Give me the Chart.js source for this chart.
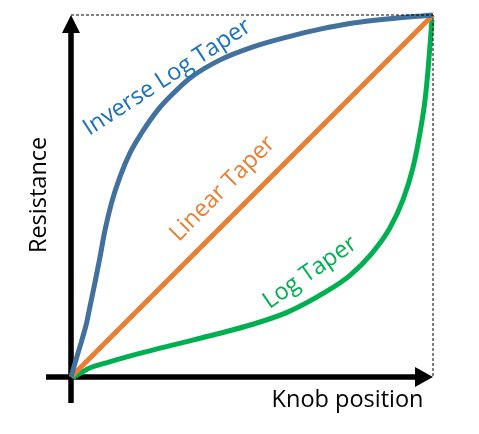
<!DOCTYPE html>
<html>
<head>
<meta charset="utf-8">
<script src="https://cdn.jsdelivr.net/npm/chart.js@4.4.1/dist/chart.umd.min.js"></script>
<style>
  html, body { margin: 0; padding: 0; background: #fff; }
  #wrap { width: 479px; height: 434px; }
</style>
</head>
<body>
<div id="wrap"><canvas id="grafico"></canvas></div>
<script>
// curve samples (knob position 0..100, resistance 0..100)
const invX = [0, 1.6, 3.0, 4.3, 5.2, 6.6, 8.0, 9.4, 11.2, 13.5, 16.3, 19.5, 24.0, 28.5, 32.9, 41.2, 50.3, 59.7, 68.8, 77.9, 87.3, 100];
const invY = [0, 5.5, 10.2, 14.9, 19.3, 26.0, 33.1, 40.6, 48.1, 55.2, 61.9, 67.4, 73.8, 78.6, 82.6, 87.6, 91.2, 93.9, 96.1, 97.8, 98.9, 100];

const linX = [0, 100];
const linY = [0, 100];

const logX = [0.5, 5, 10, 20, 30, 40, 50, 60, 70, 77, 83, 88, 91.7, 94.5, 96.4, 97.8, 98.7, 99.7];
const logY = [-0.2, 2.4, 4.0, 6.8, 9.3, 11.8, 14.5, 18.0, 23.3, 28.0, 34.0, 41.0, 48.9, 58.0, 67.4, 76.5, 85.6, 98.6];

// dashed guide: top edge and right edge of the box
const boxX = [0, 100, 100];
const boxY = [100, 100, 0];

const curveNames = ['Inverse Log Taper', 'Linear Taper', 'Log Taper'];
const xTitle = 'Knob position';
const yTitle = 'Resistance';

function pontos(xs, ys) {
    return xs.map((x, i) => ({ x: x, y: ys[i] }));
}

const FONTE = '23.5px "Open Sans", "DejaVu Sans", sans-serif';

// draws the two black arrow axes under the curves
const eixosPlugin = {
    id: 'eixos',
    beforeDatasetsDraw(chart) {
        const ctx = chart.ctx;
        const sx = chart.scales.x, sy = chart.scales.y;
        const x0 = sx.getPixelForValue(0), y0 = sy.getPixelForValue(0);
        const xEnd = sx.getPixelForValue(100), yEnd = sy.getPixelForValue(100);
        const xStart = sx.getPixelForValue(-6.9), yStart = sy.getPixelForValue(-7.2);
        const ponta = 17;  // comprimento da seta
        ctx.save();
        ctx.strokeStyle = '#000';
        ctx.fillStyle = '#000';
        ctx.lineWidth = 5.5;
        ctx.lineCap = 'butt';
        // vertical
        ctx.beginPath();
        ctx.moveTo(x0, yStart);
        ctx.lineTo(x0, yEnd + ponta);
        ctx.stroke();
        ctx.beginPath();
        ctx.moveTo(x0, yEnd);
        ctx.lineTo(x0 - 9, yEnd + ponta + 1);
        ctx.lineTo(x0 + 9, yEnd + ponta + 1);
        ctx.closePath();
        ctx.fill();
        // horizontal
        ctx.beginPath();
        ctx.moveTo(xStart, y0);
        ctx.lineTo(xEnd - ponta, y0);
        ctx.stroke();
        ctx.beginPath();
        ctx.moveTo(xEnd, y0);
        ctx.lineTo(xEnd - ponta - 1, y0 - 10);
        ctx.lineTo(xEnd - ponta - 1, y0 + 10);
        ctx.closePath();
        ctx.fill();
        ctx.restore();
    }
};

// rotated curve names and axis titles
const rotulosPlugin = {
    id: 'rotulos',
    afterDatasetsDraw(chart, args, opts) {
        const ctx = chart.ctx;
        const sx = chart.scales.x, sy = chart.scales.y;
        ctx.save();
        ctx.font = FONTE;
        ctx.textAlign = 'center';
        ctx.textBaseline = 'alphabetic';
        opts.itens.forEach(item => {
            ctx.save();
            ctx.translate(sx.getPixelForValue(item.x), sy.getPixelForValue(item.y));
            ctx.rotate(item.ang * Math.PI / 180);
            ctx.fillStyle = item.cor;
            ctx.fillText(item.texto, 0, 0);
            ctx.restore();
        });
        ctx.restore();
    }
};

const ctx = document.getElementById('grafico').getContext('2d');
new Chart(ctx, {
    type: 'line',
    data: {
        datasets: [
            {
                label: 'box',
                data: pontos(boxX, boxY),
                borderColor: '#000',
                borderWidth: 1,
                borderDash: [3, 2],
                pointRadius: 0,
                tension: 0
            },
            {
                label: curveNames[0],
                data: pontos(invX, invY),
                borderColor: '#41719c',
                borderWidth: 5,
                pointRadius: 0,
                cubicInterpolationMode: 'monotone'
            },
            {
                label: curveNames[1],
                data: pontos(linX, linY),
                borderColor: '#ed7d31',
                borderWidth: 5,
                pointRadius: 0,
                tension: 0
            },
            {
                label: curveNames[2],
                data: pontos(logX, logY),
                borderColor: '#00b050',
                borderWidth: 5,
                pointRadius: 0,
                cubicInterpolationMode: 'monotone'
            }
        ]
    },
    options: {
        responsive: true,
        maintainAspectRatio: false,
        animation: false,
        clip: false,
        layout: {
            padding: { left: 34.8, right: 46, top: 15, bottom: 20.8 }
        },
        scales: {
            x: { type: 'linear', min: -10, max: 100, display: false },
            y: { type: 'linear', min: -10, max: 100, display: false }
        },
        plugins: {
            legend: { display: false },
            tooltip: { enabled: false },
            rotulos: {
                itens: [
                    { texto: curveNames[0], x: 27.6, y: 81.2, ang: -33, cor: '#1a70c0' },
                    { texto: curveNames[1], x: 43.2, y: 50.7, ang: -45, cor: '#ed7d31' },
                    { texto: curveNames[2], x: 67.1, y: 27.3, ang: -35, cor: '#00b050' },
                    { texto: xTitle, x: 76.4, y: -8.3, ang: 0, cor: '#000' },
                    { texto: yTitle, x: -6.9, y: 50.3, ang: -90, cor: '#000' }
                ]
            }
        }
    },
    plugins: [eixosPlugin, rotulosPlugin]
});
</script>
</body>
</html>
